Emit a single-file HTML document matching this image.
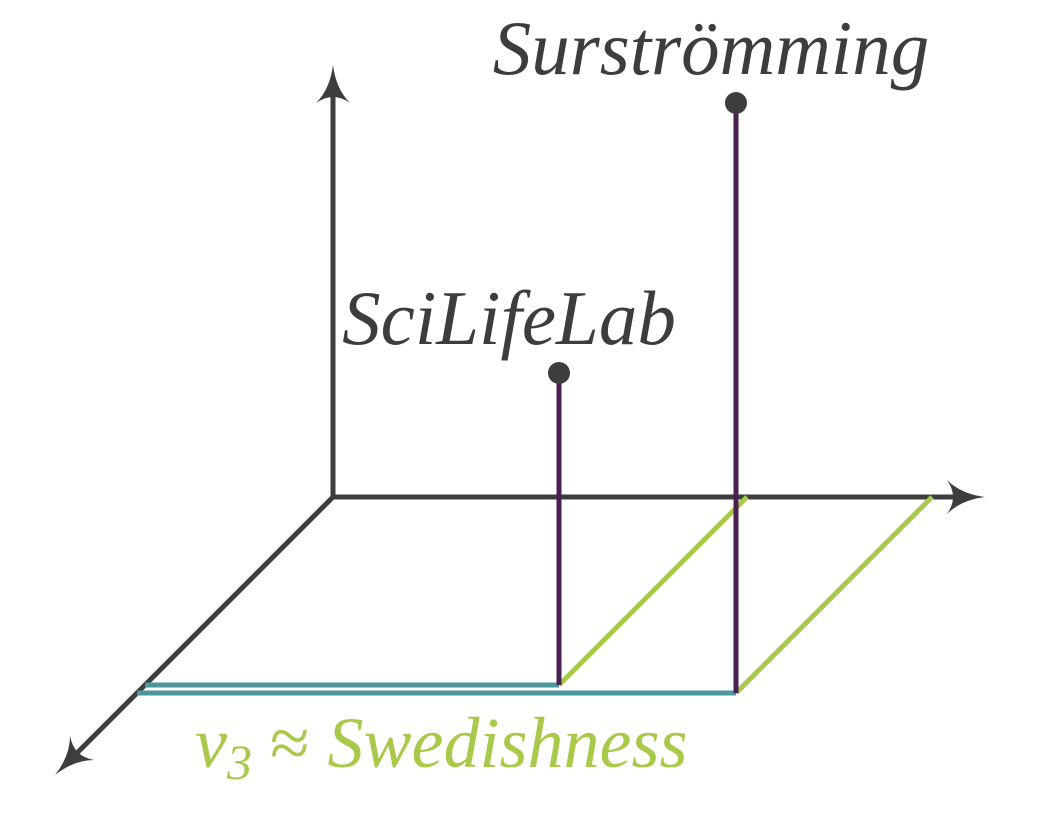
<!DOCTYPE html>
<html><head><meta charset="utf-8"><style>
html,body{margin:0;padding:0;background:#fff;}
svg{display:block;}
text{font-family:"Liberation Serif","DejaVu Serif",serif;font-style:italic;}
</style></head><body>
<svg id="c" width="1047" height="828" viewBox="0 0 1047 828">
<defs>
<marker id="ah" viewBox="-5 -18 42 36" refX="4" refY="0" markerWidth="42" markerHeight="36" markerUnits="userSpaceOnUse" orient="auto" style="overflow:visible">
<path d="M-6,-17 Q8,-3 32,0 Q8,3 -6,17 Q6,0 -6,-17Z" fill="#3d3d3d"/>
</marker>
</defs>
<g id="axes">
<line x1="333" y1="497" x2="333" y2="93" stroke="#3d3d3d" stroke-width="5" marker-end="url(#ah)"/>
<line x1="333" y1="497" x2="957" y2="497" stroke="#3d3d3d" stroke-width="5" marker-end="url(#ah)"/>
<line x1="333" y1="497" x2="75" y2="755" stroke="#3d3d3d" stroke-width="5" marker-end="url(#ah)"/>
</g>
<g id="marks"></g>
<text x="195" y="767" font-size="72" fill="#a9c94a">v<tspan font-size="50" dy="12">3</tspan><tspan dy="-12" font-style="normal"> ≈ </tspan>Swedishness</text>
</svg>
<script>
const labels = ["SciLifeLab", "Surströmming"];
const xVals = [414, 599];
const zVals = [188, 196];
const yVals = [312, 590];

const labelShift = [-50, -25];
const O = {x:333, y:497};
function px(x, z){ return O.x + x - z; }
function py(y, z){ return O.y + z - y; }
const g = document.getElementById('marks');
const NS = 'http://www.w3.org/2000/svg';
function ln(x1,y1,x2,y2,c,w,name){
  const l = document.createElementNS(NS,'line');
  l.setAttribute('x1',x1);l.setAttribute('y1',y1);l.setAttribute('x2',x2);l.setAttribute('y2',y2);
  l.setAttribute('stroke',c);l.setAttribute('stroke-width',w);
  
  
  g.appendChild(l);
}
for (let i=0;i<labels.length;i++){
  const fx = px(xVals[i], zVals[i]), fy = py(0, zVals[i]);
  ln(px(0, zVals[i]), fy, fx, fy, '#4a979e', 5, 'depth-line');
  ln(fx, fy, px(xVals[i], 0), py(0,0), '#a9c94a', 5, 'x-projection-line');
}
for (let i=0;i<labels.length;i++){
  const fx = px(xVals[i], zVals[i]), fy = py(0, zVals[i]);
  const ty = py(yVals[i], zVals[i]);
  ln(fx, fy, fx, ty, '#4a1f52', 5, 'stem');
  const c = document.createElementNS(NS,'circle');
  c.setAttribute('cx',fx);c.setAttribute('cy',ty);c.setAttribute('r',11);c.setAttribute('fill','#3d3d3d');
  
  
  g.appendChild(c);
  const t = document.createElementNS(NS,'text');
  t.setAttribute('x', fx + labelShift[i]);
  t.setAttribute('y', ty - 29);
  t.setAttribute('text-anchor','middle');
  t.setAttribute('font-size','77');
  t.setAttribute('fill','#3d3d3d');
  t.textContent = labels[i];
  
  
  g.appendChild(t);
}
</script>
</body></html>
